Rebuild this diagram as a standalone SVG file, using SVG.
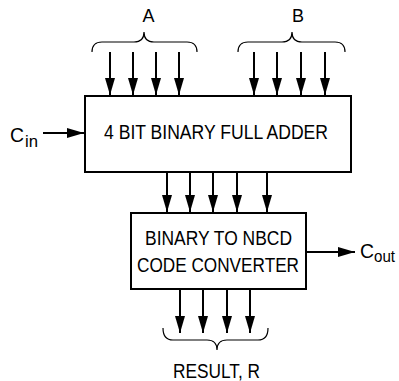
<svg xmlns="http://www.w3.org/2000/svg" width="399" height="381" viewBox="0 0 399 381">
<style>
.box{fill:#fff;stroke:#000;stroke-width:2}
.wire{stroke:#000;stroke-width:2;fill:none}
.brace{stroke:#000;stroke-width:1.2;fill:none}
text{font-family:"Liberation Sans",Arial,sans-serif;font-size:20px;fill:#000}
.lbl{font-size:18px}
.sub{font-size:17px}
</style>
<defs>
<marker id="ah" markerUnits="userSpaceOnUse" markerWidth="17" markerHeight="10" refX="17" refY="5" orient="auto">
<path d="M0,0 L17,5 L0,10 z" fill="#000"/>
</marker>
</defs>
<g id="connectors">
<g class="wire" marker-end="url(#ah)">
<line x1="110" y1="52" x2="110" y2="95"/>
<line x1="133" y1="52" x2="133" y2="95"/>
<line x1="156" y1="52" x2="156" y2="95"/>
<line x1="179" y1="52" x2="179" y2="95"/>
<line x1="254" y1="52" x2="254" y2="95"/>
<line x1="277" y1="52" x2="277" y2="95"/>
<line x1="301" y1="52" x2="301" y2="95"/>
<line x1="325" y1="52" x2="325" y2="95"/>
<line x1="167" y1="173" x2="167" y2="212"/>
<line x1="190" y1="173" x2="190" y2="212"/>
<line x1="213" y1="173" x2="213" y2="212"/>
<line x1="237" y1="173" x2="237" y2="212"/>
<line x1="267" y1="173" x2="267" y2="212"/>
<line x1="180" y1="290" x2="180" y2="333"/>
<line x1="203" y1="290" x2="203" y2="333"/>
<line x1="227" y1="290" x2="227" y2="333"/>
<line x1="250" y1="290" x2="250" y2="333"/>
<line x1="43" y1="133" x2="84" y2="133"/>
<line x1="307" y1="252" x2="355" y2="252"/>
</g>
</g>
<g id="braceA">
<path class="brace" d="M92,52 Q92,42 102,42 L134,42 Q144,42 144,32 Q144,42 154,42 L187,42 Q197,42 197,52"/>
<text class="lbl" x="148.5" y="22" text-anchor="middle">A</text>
</g>
<g id="braceB">
<path class="brace" d="M238,52 Q238,42 248,42 L282,42 Q292,42 292,32 Q292,42 302,42 L335,42 Q345,42 345,52"/>
<text class="lbl" x="298" y="22" text-anchor="middle">B</text>
</g>
<g id="adder">
<rect class="box" x="85" y="96" width="266" height="76"/>
<text x="216" y="139" text-anchor="middle" textLength="224" lengthAdjust="spacingAndGlyphs">4 BIT BINARY FULL ADDER</text>
</g>
<g id="converter">
<rect class="box" x="131" y="213" width="175" height="76"/>
<text x="218.5" y="245" text-anchor="middle" textLength="147" lengthAdjust="spacingAndGlyphs">BINARY TO NBCD</text>
<text x="218" y="272" text-anchor="middle" textLength="162" lengthAdjust="spacingAndGlyphs">CODE CONVERTER</text>
</g>
<g id="cin">
<text x="10" y="142" textLength="14" lengthAdjust="spacingAndGlyphs">C</text>
<text class="sub" x="25" y="147" textLength="13" lengthAdjust="spacingAndGlyphs">in</text>
</g>
<g id="cout">
<text x="360" y="258" textLength="14" lengthAdjust="spacingAndGlyphs">C</text>
<text class="sub" x="374" y="262" textLength="21" lengthAdjust="spacingAndGlyphs">out</text>
</g>
<g id="result">
<path class="brace" d="M163,328 Q163,340 173,340 L207,340 Q217,340 217,350 Q217,340 227,340 L258,340 Q268,340 268,328"/>
<text x="216.5" y="378" text-anchor="middle" textLength="87" lengthAdjust="spacingAndGlyphs">RESULT, R</text>
</g>
</svg>
